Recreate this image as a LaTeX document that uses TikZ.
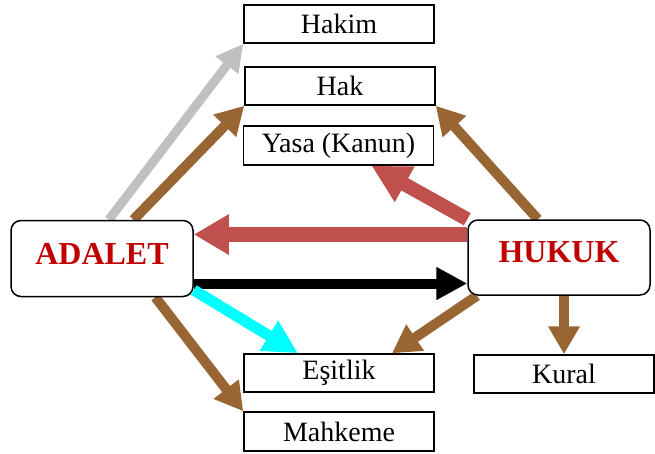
\documentclass[tikz,border=0pt]{standalone}
\usepackage{fontspec}
\setmainfont{Liberation Serif}
\usepackage{xcolor}
\usetikzlibrary{arrows.meta}
\usetikzlibrary{backgrounds}
\definecolor{kahve}{HTML}{996633}
\definecolor{kiremit}{HTML}{C0504D}
\definecolor{gri}{HTML}{C0C0C0}
\definecolor{turkuaz}{HTML}{00FFFF}
\definecolor{koyukirmizi}{HTML}{C00000}

\begin{document}
\begin{tikzpicture}[x=1pt,y=-1pt]
                % kutu = plain box, ana = rounded main box, ok = brown arrow
                \tikzstyle{kutu}=[draw=black, fill=white, line width=1.5pt, minimum width=190pt, minimum height=38pt, inner sep=0pt, font=\fontsize{28}{30}\selectfont]
                \tikzstyle{ana}=[draw=black, fill=white, line width=1.5pt, rounded corners=10pt, minimum width=182pt, minimum height=76pt, inner sep=0pt, text depth=10pt, text=koyukirmizi, font=\fontsize{32}{34}\selectfont\bfseries]
                \tikzstyle{ok}=[kahve, line width=10pt, -{Triangle[length=28pt,width=30pt]}]
                \useasboundingbox (0,0) rectangle (655,453);
                \node[ana] (adalet) at (102,258.5) {ADALET};
                \node[ana, minimum height=75pt] (hukuk) at (559,257.5) {HUKUK};
                \node[kutu] (hakim) at (339,24) {Hakim};
                \node[kutu] (hak) at (340,86) {Hak};
                \node[kutu, minimum height=39pt] (yasa) at (338.5,145.5) {Yasa (Kanun)};
                \node[kutu] (esitlik) at (339,373) {Eşitlik};
                \node[kutu, minimum height=39pt] (mahkeme) at (339,431.5) {Mahkeme};
                \node[kutu, minimum width=180pt] (kural) at (564,374) {Kural};
                \begin{pgfonlayer}{background}
                \draw[ok, gri, line width=9pt, -{Triangle[length=27pt,width=27pt]}] (adalet.80) -- (hakim.south west);
                \draw[ok] (adalet.51) -- (hak.south west);
                \draw[ok] (hukuk.119) -- (hak.south east);
                \draw[ok, kiremit, line width=14pt, -{Triangle[length=38pt,width=38pt]}] (hukuk.north west) -- ([xshift=33pt]yasa.south);
                \draw[ok, kiremit, line width=15pt, -{Triangle[length=35pt,width=38pt]}] ([yshift=23pt]hukuk.west) -- ([yshift=23pt]hukuk.west -| adalet.east);
                \draw[ok, black, -{Triangle[length=31pt,width=31pt]}] ([yshift=-25pt]adalet.east) -- ([yshift=-25pt]adalet.east -| hukuk.west);
                \draw[ok, turkuaz, line width=11pt, -{Triangle[length=34pt,width=33pt]}] (adalet.-19) -- ([xshift=-41pt]esitlik.north);
                \draw[ok] (adalet.-36) -- (mahkeme.north west);
                \draw[ok] (hukuk.-155) -- ([xshift=53pt]esitlik.north);
                \draw[ok] (hukuk.south -| kural.north) -- (kural.north);
                \end{pgfonlayer}
        \end{tikzpicture}
\end{document}
